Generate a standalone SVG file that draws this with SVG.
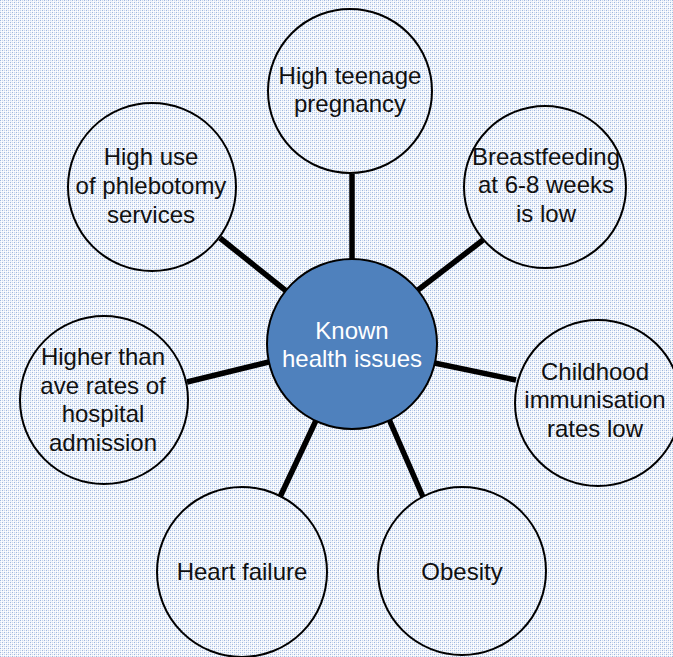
<svg xmlns="http://www.w3.org/2000/svg" width="673" height="657" viewBox="0 0 673 657">
<defs>
<pattern id="bg" width="4" height="4" patternUnits="userSpaceOnUse">
<rect width="4" height="4" fill="#f1f5fb"/>
<rect x="0" y="0" width="1" height="1" fill="#9fb8de"/>
<rect x="2" y="2" width="1" height="1" fill="#9fb8de"/>
<rect x="2" y="0" width="1" height="1" fill="#cbd8ee"/>
<rect x="0" y="2" width="1" height="1" fill="#cbd8ee"/>
<rect x="1" y="1" width="1" height="1" fill="#ffffff"/>
<rect x="3" y="3" width="1" height="1" fill="#ffffff"/>
<rect x="1" y="3" width="1" height="1" fill="#ffffff"/>
</pattern>
<style>
.node{fill:none;stroke:#000;stroke-width:2}
.hub{fill:#4f81bd;stroke:#000;stroke-width:2}
.lbl{font-family:"Liberation Sans",Arial,sans-serif;font-size:24px;fill:#111;text-anchor:middle}
.hubl{font-family:"Liberation Sans",Arial,sans-serif;font-size:24px;fill:#fff;text-anchor:middle}
.conn line{stroke:#000;stroke-width:5.5}
</style>
</defs>
<rect width="673" height="657" fill="url(#bg)"/>
<g id="connectors" class="conn">
<line x1="352" y1="300" x2="352" y2="174"/>
<line x1="300" y1="302" x2="220" y2="238"/>
<line x1="405" y1="300" x2="483" y2="240"/>
<line x1="420" y1="360" x2="516" y2="380"/>
<line x1="285" y1="358" x2="187" y2="382"/>
<line x1="320" y1="412" x2="280" y2="497"/>
<line x1="385" y1="410" x2="423" y2="497"/>
</g>
<g id="hub">
<circle class="hub" cx="352" cy="344" r="85"/>
<text class="hubl" x="352" y="339">Known</text>
<text class="hubl" x="352" y="367">health issues</text>
</g>
<g id="n-teenage">
<circle class="node" cx="350" cy="91" r="82"/>
<text class="lbl" x="350" y="84">High teenage</text>
<text class="lbl" x="350" y="112">pregnancy</text>
</g>
<g id="n-phlebotomy">
<circle class="node" cx="152" cy="187" r="84"/>
<text class="lbl" x="151" y="165">High use</text>
<text class="lbl" x="151" y="194">of phlebotomy</text>
<text class="lbl" x="151" y="223">services</text>
</g>
<g id="n-breastfeeding">
<circle class="node" cx="545" cy="187" r="81"/>
<text class="lbl" x="546" y="165">Breastfeeding</text>
<text class="lbl" x="546" y="193">at 6-8 weeks</text>
<text class="lbl" x="546" y="222">is low</text>
</g>
<g id="n-immunisation">
<circle class="node" cx="598" cy="403" r="83"/>
<text class="lbl" x="595" y="380">Childhood</text>
<text class="lbl" x="595" y="408">immunisation</text>
<text class="lbl" x="595" y="437">rates low</text>
</g>
<g id="n-hospital">
<circle class="node" cx="104" cy="400" r="84"/>
<text class="lbl" x="103" y="365">Higher than</text>
<text class="lbl" x="103" y="394">ave rates of</text>
<text class="lbl" x="103" y="422">hospital</text>
<text class="lbl" x="103" y="451">admission</text>
</g>
<g id="n-heart">
<circle class="node" cx="242" cy="572" r="85"/>
<text class="lbl" x="242" y="580">Heart failure</text>
</g>
<g id="n-obesity">
<circle class="node" cx="462" cy="571" r="84"/>
<text class="lbl" x="462" y="580">Obesity</text>
</g>
</svg>
